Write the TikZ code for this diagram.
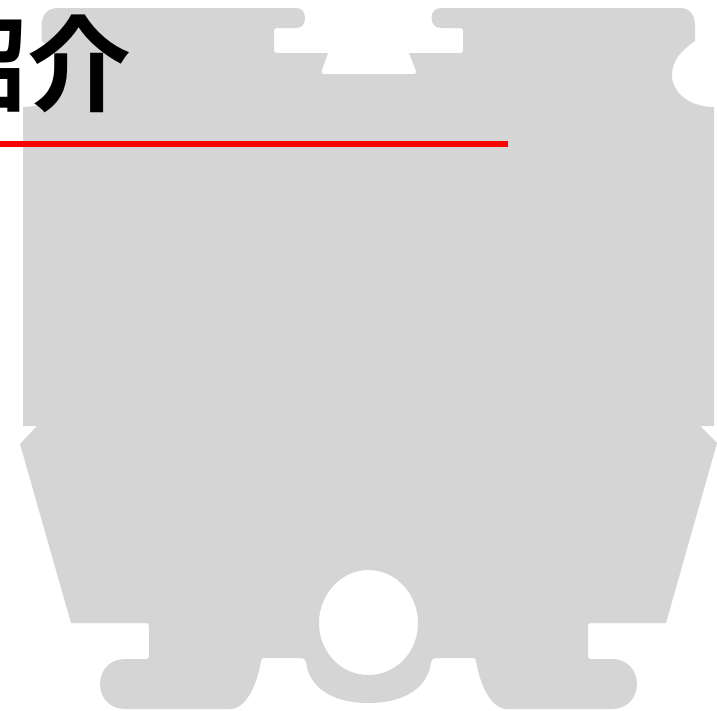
\documentclass[tikz,border=0pt]{standalone}
\usepackage{fontspec}
\newfontfamily\cjk{Noto Sans CJK JP}[BoldFont={Noto Sans CJK JP Bold}]
\definecolor{plate}{HTML}{D5D5D5}
\tikzset{
  plateshape/.style={fill=plate,draw=none,even odd rule},
  titletext/.style={font=\cjk\bfseries\fontsize{104}{104}\selectfont,text=black,inner sep=0pt,anchor=base east},
  redrule/.style={draw=red,line width=6pt}
}
\begin{document}
\begin{tikzpicture}[x=1pt,y=-1pt]
\useasboundingbox (0,0) rectangle (717,710);
\path[plateshape]
  % top edge, left part
  (58,8) -- (296,8)
  .. controls (302,8) and (305,12) .. (305,18)
  .. controls (305,24) and (302,28) .. (296,28)
  -- (277,28) .. controls (275,28) and (274,29) .. (274,31)
  -- (274,50) .. controls (274,52) and (275,53) .. (277,53)
  -- (328,53) -- (321.5,71) .. controls (321,73) and (322,74) .. (324,74)
  -- (413.5,74) .. controls (415.5,74) and (416.5,73) .. (416,71)
  -- (409,53) -- (460,53) .. controls (462,53) and (463,52) .. (463,50)
  -- (463,31) .. controls (463,29) and (462,28) .. (460,28)
  -- (441,28) .. controls (435,28) and (431.5,24) .. (431.5,18)
  .. controls (431.5,12) and (435,8) .. (441,8)
  % top right corner and notch
  -- (680,8) .. controls (690,8) and (695,15) .. (695,26)
  -- (695,41) .. controls (682,50) and (672,60) .. (672,75)
  .. controls (672,93) and (690,107) .. (714,107)
  -- (714,426) -- (700,426) -- (717,443) -- (666,623)
  -- (591,623) .. controls (589,623) and (588,624) .. (588,626)
  -- (588,656) .. controls (588,658) and (589,659) .. (591,659)
  -- (612,659) .. controls (627,659) and (637,670) .. (637,684)
  .. controls (637,698) and (627,709) .. (612,709)
  -- (507,709) .. controls (491,709) and (480,685) .. (476,661)
  .. controls (476,659) and (475,658) .. (473,658)
  -- (435,658) .. controls (433,658) and (432,660) .. (431,662)
  .. controls (428,688) and (404,703) .. (368.5,703)
  .. controls (333,703) and (309,688) .. (306,662)
  .. controls (305,660) and (304,658) .. (302,658)
  -- (264,658) .. controls (262,658) and (261,659) .. (261,661)
  .. controls (257,685) and (246,709) .. (230,709)
  -- (125,709) .. controls (110,709) and (100,698) .. (100,684)
  .. controls (100,670) and (110,659) .. (125,659)
  -- (146,659) .. controls (148,659) and (149,658) .. (149,656)
  -- (149,626) .. controls (149,624) and (148,623) .. (146,623)
  -- (71,623) -- (20,444) -- (37,426) -- (23,426) -- (23,107)
  .. controls (47,107) and (65,93) .. (65,75)
  .. controls (65,60) and (55,50) .. (41.5,41)
  -- (41.5,26) .. controls (41.5,15) and (47,8) .. (58,8) -- cycle
  % round hole
  (368.5,570) .. controls (396,570) and (418,594) .. (418,623)
  .. controls (418,652) and (396,675) .. (368.5,675)
  .. controls (341,675) and (319,652) .. (319,623)
  .. controls (319,594) and (341,570) .. (368.5,570) -- cycle;
\node[titletext] (title) at (131.5,103) {紹介};
\coordinate (ruleL) at (0,144);
\coordinate (ruleR) at (508,144);
\draw[redrule] (ruleL) -- (ruleR);
\end{tikzpicture}
\end{document}
